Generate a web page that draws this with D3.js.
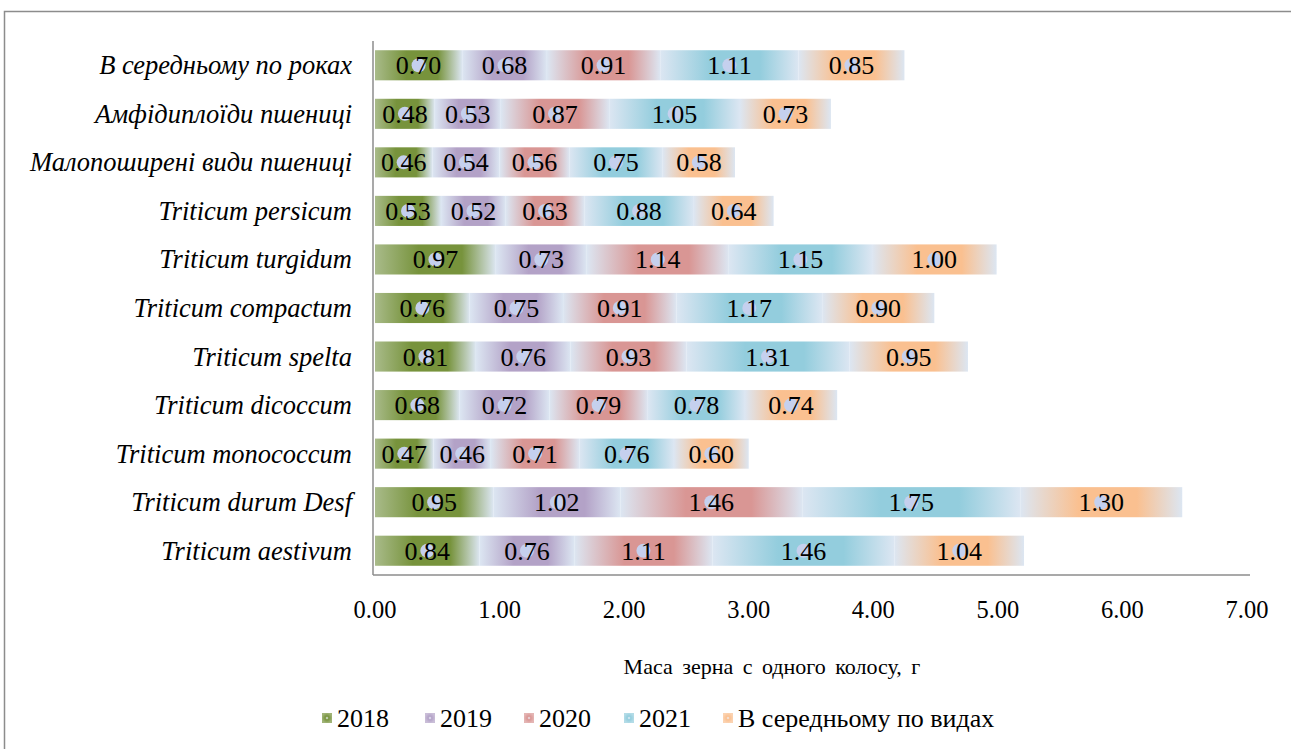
<!DOCTYPE html>
<html>
<head>
<meta charset="utf-8">
<script src="https://cdn.jsdelivr.net/npm/d3@7"></script>
<style>
  body { margin: 0; background: #fff; }
  text { font-family: 'Liberation Serif', 'Times New Roman', 'DejaVu Serif', serif; }
</style>
</head>
<body>
<script>
const categories = [
  'В середньому по роках',
  'Амфідиплоїди пшениці',
  'Малопоширені види пшениці',
  'Triticum persicum',
  'Triticum turgidum',
  'Triticum compactum',
  'Triticum spelta',
  'Triticum dicoccum',
  'Triticum monococcum',
  'Triticum durum Desf',
  'Triticum aestivum'
]
const seriesNames = ['2018', '2019', '2020', '2021', 'В середньому по видах']
const v2018 = [0.70, 0.48, 0.46, 0.53, 0.97, 0.76, 0.81, 0.68, 0.47, 0.95, 0.84]
const v2019 = [0.68, 0.53, 0.54, 0.52, 0.73, 0.75, 0.76, 0.72, 0.46, 1.02, 0.76]
const v2020 = [0.91, 0.87, 0.56, 0.63, 1.14, 0.91, 0.93, 0.79, 0.71, 1.46, 1.11]
const v2021 = [1.11, 1.05, 0.75, 0.88, 1.15, 1.17, 1.31, 0.78, 0.76, 1.75, 1.46]
const vAvg = [0.85, 0.73, 0.58, 0.64, 1.00, 0.90, 0.95, 0.74, 0.60, 1.30, 1.04]
const xTicks = [0, 1, 2, 3, 4, 5, 6, 7]
const axisTitle = 'Маса зерна с одного колосу, г'

const colors = ['#77933c', '#b3a2c7', '#d99694', '#93cddd', '#fac090']
const light = '#dce6f2'

const W = 1291, H = 749
const box = { left: 375, right: 1247, top: 41, bottom: 575 }

const svg = d3.select('body').append('svg').attr('width', W).attr('height', H)
  .style('display', 'block')

// gradients
const defs = svg.append('defs')
colors.forEach((c, i) => {
  const g = defs.append('linearGradient').attr('id', 'g' + i)
  g.append('stop').attr('offset', '0%').attr('stop-color', i === 0 ? '#a9bb8a' : light)
  g.append('stop').attr('offset', '36%').attr('stop-color', c)
  g.append('stop').attr('offset', '72%').attr('stop-color', c)
  g.append('stop').attr('offset', '100%').attr('stop-color', light)
  const r = defs.append('radialGradient').attr('id', 'r' + i)
  r.append('stop').attr('offset', '0%').attr('stop-color', '#eef2fa')
  r.append('stop').attr('offset', '35%').attr('stop-color', c)
  r.append('stop').attr('offset', '100%').attr('stop-color', c).attr('stop-opacity', 0.7)
})

// outer frame
svg.append('rect').attr('x', 4.5).attr('y', 11.5).attr('width', 1300).attr('height', 800)
  .attr('fill', 'none').attr('stroke', '#8c8c8c').attr('stroke-width', 1.5)

const xScale = d3.scaleLinear().domain([0, 7]).range([box.left, box.right])
const yScale = d3.scaleBand().domain(categories).range([box.top, box.bottom]).paddingInner(0.38).paddingOuter(0.19)

const table = categories.map((c, i) => ({
  cat: c, '0': v2018[i], '1': v2019[i], '2': v2020[i], '3': v2021[i], '4': vAvg[i]
}))
const stacked = d3.stack().keys(['0', '1', '2', '3', '4'])(table)

const bars = svg.append('g').classed('bars', true)
stacked.forEach((layer, k) => {
  const g = bars.append('g')
  g.selectAll('rect').data(layer).join('rect')
    .attr('x', d => xScale(d[0]))
    .attr('y', d => yScale(d.data.cat))
    .attr('width', d => xScale(d[1]) - xScale(d[0]))
    .attr('height', yScale.bandwidth())
    .attr('fill', `url(#g${k})`)
})

// small marker dots and value labels
const labels = svg.append('g').classed('labels', true)
stacked.forEach(layer => {
  labels.append('g').selectAll('circle').data(layer).join('circle')
    .attr('cx', d => xScale((d[0] + d[1]) / 2))
    .attr('cy', d => yScale(d.data.cat) + yScale.bandwidth() / 2)
    .attr('r', 7)
    .attr('fill', '#c5d0ee')
  labels.append('g').selectAll('text').data(layer).join('text')
    .attr('x', d => xScale((d[0] + d[1]) / 2))
    .attr('y', d => yScale(d.data.cat) + yScale.bandwidth() / 2 + 9)
    .attr('text-anchor', 'middle')
    .attr('font-size', 26)
    .attr('fill', '#000')
    .text(d => (d[1] - d[0]).toFixed(2))
})

// axes lines
svg.append('line').attr('x1', box.left - 2).attr('x2', box.left - 2).attr('y1', box.top).attr('y2', box.bottom)
  .attr('stroke', '#8c8c8c').attr('stroke-width', 1.5)
svg.append('line').attr('x1', box.left - 2).attr('x2', box.right + 3).attr('y1', box.bottom).attr('y2', box.bottom)
  .attr('stroke', '#8c8c8c').attr('stroke-width', 1.5)

// category labels
svg.append('g').selectAll('text').data(categories).join('text')
  .attr('x', 352)
  .attr('y', d => yScale(d) + yScale.bandwidth() / 2 + 9)
  .attr('text-anchor', 'end')
  .attr('font-size', 26.5)
  .attr('font-style', 'italic')
  .text(d => d)

// tick labels
svg.append('g').selectAll('text').data(xTicks).join('text')
  .attr('x', d => xScale(d))
  .attr('y', 618)
  .attr('text-anchor', 'middle')
  .attr('font-size', 24.5)
  .text(d => d.toFixed(2))

svg.append('text').attr('x', 772).attr('y', 674).attr('text-anchor', 'middle')
  .attr('font-size', 22).attr('word-spacing', 4).text(axisTitle)

// legend
const legendX = [322, 425, 524, 624, 723]
const leg = svg.append('g').classed('legend', true)
seriesNames.forEach((s, i) => {
  leg.append('rect').attr('x', legendX[i]).attr('y', 713).attr('width', 10).attr('height', 10)
    .attr('fill', `url(#r${i})`)
  leg.append('text').attr('x', legendX[i] + 15).attr('y', 727).attr('font-size', 26).text(s)
})
</script>
</body>
</html>
